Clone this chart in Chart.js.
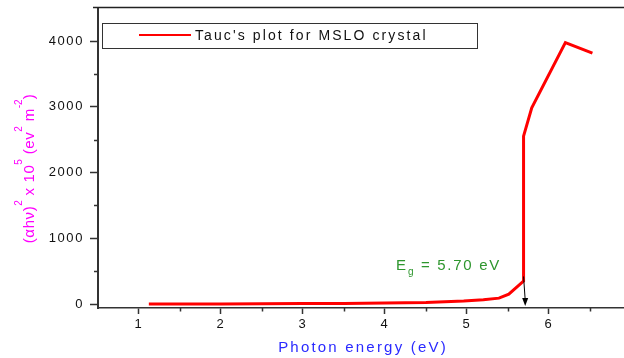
<!DOCTYPE html>
<html>
<head>
<meta charset="utf-8">
<script src="https://cdn.jsdelivr.net/npm/chart.js@4/dist/chart.umd.min.js"></script>
<style>
  html, body { margin: 0; padding: 0; background: #fff; }
  #wrap { width: 624px; height: 358px; position: relative; }
</style>
</head>
<body>
<div id="wrap"><canvas id="c" width="624" height="358"></canvas></div>
<script>
// ---- data ----
const photonEnergy = [1.12, 1.5, 2, 2.5, 3, 3.5, 4, 4.5, 4.96, 5.2, 5.39, 5.51, 5.69, 5.69, 5.79, 6.2, 6.53];
const taucValues   = [0, 1, 2, 4, 7, 10, 15, 22, 45, 65, 90, 150, 350, 2555, 2985, 3980, 3820];
const xTickValues  = [1, 2, 3, 4, 5, 6];
const xMinorTicks  = [1.5, 2.5, 3.5, 4.5, 5.5, 6.5];
const yTickValues  = [0, 1000, 2000, 3000, 4000];
const yMinorTicks  = [500, 1500, 2500, 3500];
const seriesLabel  = "Tauc's plot for MSLO crystal";
const xTitle       = "Photon energy (eV)";
const yTitleParts  = [["(αhν)", false], ["2", true], [" x 10", false], ["5", true], [" (ev", false], ["2", true], [" m", false], ["-2", true], [")", false]];
const bandGapText  = ["E", "g", "= 5.70 eV"];
const arrowFrom    = { x: 5.69, y: 420 };
const arrowTo      = { x: 5.71, y: -30 };

const FONT = '"Liberation Sans", Arial, sans-serif';
const AXIS = '#333333';

const decor = {
  id: 'decor',
  beforeDraw(chart) { chart.ctx.letterSpacing = '1.6px'; },
  afterDraw(chart) {
    const ctx = chart.ctx;
    const xs = chart.scales.x, ys = chart.scales.y;
    const a = chart.chartArea;
    ctx.save();
    // top frame line
    ctx.strokeStyle = '#222'; ctx.lineWidth = 1.5;
    ctx.beginPath(); ctx.moveTo(93, 7.5); ctx.lineTo(624, 7.5); ctx.stroke();
    // minor ticks
    ctx.strokeStyle = AXIS; ctx.lineWidth = 1.5;
    ctx.beginPath();
    xMinorTicks.forEach(v => { const px = Math.round(xs.getPixelForValue(v)) + 0.5; ctx.moveTo(px, a.bottom); ctx.lineTo(px, a.bottom + 3.5); });
    yMinorTicks.forEach(v => { const py = Math.round(ys.getPixelForValue(v)) + 0.5; ctx.moveTo(a.left, py); ctx.lineTo(a.left - 4, py); });
    ctx.stroke();

    // arrow
    const x1 = xs.getPixelForValue(arrowFrom.x), y1 = ys.getPixelForValue(arrowFrom.y);
    const x2 = xs.getPixelForValue(arrowTo.x), y2 = ys.getPixelForValue(arrowTo.y);
    ctx.strokeStyle = '#000'; ctx.fillStyle = '#000'; ctx.lineWidth = 1;
    ctx.beginPath(); ctx.moveTo(x1, y1); ctx.lineTo(x2, y2 - 6); ctx.stroke();
    ctx.beginPath(); ctx.moveTo(x2, y2); ctx.lineTo(x2 - 3, y2 - 8); ctx.lineTo(x2 + 3, y2 - 8); ctx.closePath(); ctx.fill();

    // legend
    ctx.strokeStyle = '#333'; ctx.lineWidth = 1;
    ctx.strokeRect(102.5, 23.5, 375, 25);
    ctx.strokeStyle = '#ff0000'; ctx.lineWidth = 2;
    ctx.beginPath(); ctx.moveTo(139, 35); ctx.lineTo(191, 35); ctx.stroke();
    ctx.fillStyle = '#111'; ctx.font = '14px ' + FONT; ctx.letterSpacing = '2.1px';
    ctx.textAlign = 'left'; ctx.textBaseline = 'alphabetic';
    ctx.fillText(chart.data.datasets[0].label, 195, 40);

    // band gap text
    ctx.fillStyle = '#2e962e';
    ctx.font = '15px ' + FONT; ctx.letterSpacing = '1.5px';
    ctx.fillText(bandGapText[0], 396, 270);
    ctx.font = '10px ' + FONT; ctx.letterSpacing = '0px';
    ctx.fillText(bandGapText[1], 408, 275);
    ctx.font = '15px ' + FONT; ctx.letterSpacing = '1.7px';
    ctx.fillText(bandGapText[2], 421, 270);

    // x title
    ctx.fillStyle = '#2a2aff';
    ctx.font = '15px ' + FONT; ctx.letterSpacing = '2.2px';
    const w = ctx.measureText(xTitle).width;
    ctx.fillText(xTitle, 363 - w / 2, 352);

    // y title (rotated, with superscripts)
    ctx.fillStyle = '#ff00ff';
    const mainFont = '15px ' + FONT, supFont = '10px ' + FONT;
    const setF = sup => { ctx.font = sup ? supFont : mainFont; ctx.letterSpacing = sup ? '0px' : '0.6px'; };
    let total = 0;
    yTitleParts.forEach(([t, sup]) => { setF(sup); total += ctx.measureText(t).width; });
    ctx.translate(34, 168.5);
    ctx.rotate(-Math.PI / 2);
    let cx = -total / 2;
    yTitleParts.forEach(([t, sup]) => {
      setF(sup);
      ctx.fillText(t, cx, sup ? -12 : 0);
      cx += ctx.measureText(t).width;
    });
    ctx.restore();
  }
};

new Chart(document.getElementById('c'), {
  type: 'scatter',
  data: {
    datasets: [{
      label: seriesLabel,
      data: photonEnergy.map((x, i) => ({ x, y: taucValues[i] })),
      showLine: true,
      borderColor: '#ff0000',
      backgroundColor: '#ff0000',
      borderWidth: 3,
      pointRadius: 0,
      tension: 0,
      clip: false
    }]
  },
  options: {
    responsive: false,
    animation: false,
    events: [],
    layout: { padding: { top: 9, right: 0, left: 0, bottom: 0 } },
    plugins: { legend: { display: false }, tooltip: { enabled: false } },
    scales: {
      x: {
        type: 'linear', min: 0.5, max: 6.915,
        afterBuildTicks: s => { s.ticks = xTickValues.map(v => ({ value: v })); },
        afterFit: s => { s.height = 50; s.paddingLeft = 0; s.paddingRight = 0; },
        grid: { drawOnChartArea: false, drawTicks: true, tickLength: 6, tickColor: AXIS, tickWidth: 1.5 },
        border: { display: true, color: AXIS, width: 1.5 },
        ticks: { color: '#111', font: { family: FONT, size: 13 }, padding: 3, maxRotation: 0, autoSkip: false, callback: v => String(v) }
      },
      y: {
        type: 'linear', min: -60, max: 4490,
        afterBuildTicks: s => { s.ticks = yTickValues.map(v => ({ value: v })); },
        afterFit: s => { s.width = 98; s.paddingTop = 0; s.paddingBottom = 0; },
        grid: { drawOnChartArea: false, drawTicks: true, tickLength: 8, tickColor: AXIS, tickWidth: 1.5 },
        border: { display: true, color: AXIS, width: 2 },
        ticks: { color: '#111', font: { family: FONT, size: 13 }, padding: 6, autoSkip: false, callback: v => String(v) }
      }
    }
  },
  plugins: [decor]
});
</script>
</body>
</html>
